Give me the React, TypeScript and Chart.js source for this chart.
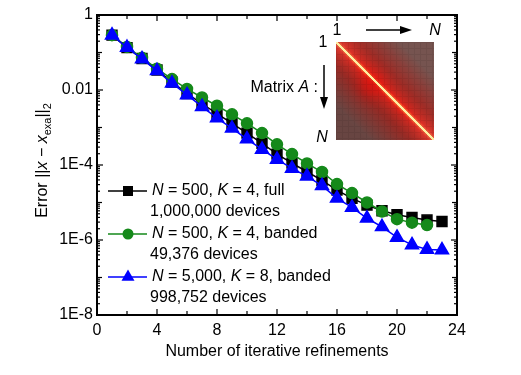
import React, { useEffect, useRef } from 'react';
import { Chart, registerables } from 'chart.js';

Chart.register(...registerables);

// Iterative refinement steps (x) and the resulting error norms (y)
const iterations = [1, 2, 3, 4, 5, 6, 7, 8, 9, 10, 11, 12, 13, 14, 15, 16, 17, 18, 19, 20, 21, 22, 23];

const errFull = [
  0.29, 0.135, 0.069, 0.034, 0.0162, 0.0081, 0.0043, 0.00234, 0.00129, 7.1e-4, 3.8e-4, 1.95e-4,
  1.12e-4, 6.6e-5, 3.9e-5, 2.14e-5, 1.29e-5, 8.5e-6, 6.0e-6, 4.7e-6, 4.0e-6, 3.4e-6, 3.1e-6,
];
const errBanded = [
  0.29, 0.141, 0.072, 0.037, 0.0195, 0.0107, 0.0063, 0.0038, 0.00224, 0.00129, 7.1e-4, 3.55e-4,
  1.95e-4, 1.1e-4, 6.5e-5, 3.1e-5, 1.78e-5, 1.0e-5, 5.75e-6, 3.6e-6, 2.9e-6, 2.5e-6,
];
const errLarge = [
  0.29, 0.135, 0.0676, 0.0324, 0.0151, 0.0074, 0.0036, 0.00178, 9.5e-4, 4.9e-4, 2.6e-4, 1.41e-4,
  8.1e-5, 5.0e-5, 2.8e-5, 1.29e-5, 7.4e-6, 3.8e-6, 2.24e-6, 1.17e-6, 7.4e-7, 5.6e-7, 5.4e-7,
];

const yTickValues = [1, 0.01, 1e-4, 1e-6, 1e-8];
const yTickLabels = ['1', '0.01', '1E-4', '1E-6', '1E-8'];

// Legend text: first line is [italic, plain, italic, plain], second line the device count
const legendHeads = [
  ['N', ' = 500, ', 'K', ' = 4, full'],
  ['N', ' = 500, ', 'K', ' = 4, banded'],
  ['N', ' = 5,000, ', 'K', ' = 8, banded'],
];
const legendCounts = ['1,000,000 devices', '49,376 devices', '998,752 devices'];

const FAMILY = '"Liberation Sans", Arial, Helvetica, sans-serif';
const BLACK = '#000000';
const GREEN = '#15891a';
const BLUE = '#0000ff';

type RGB = [number, number, number];
const mix = (a: RGB, b: RGB, t: number): RGB => [
  a[0] + (b[0] - a[0]) * t,
  a[1] + (b[1] - a[1]) * t,
  a[2] + (b[2] - a[2]) * t,
];

// Colour map of the matrix A preview: bright diagonal, red near-band, dull far field
function matrixColor(u: number, v: number): RGB {
  const d = Math.abs(u - v);
  const m = (u + v) / 2;
  const yellow: RGB = [255, 238, 160];
  const orange: RGB = [255, 120, 55];
  const red: RGB = [232, 34, 24];
  const darkRed: RGB = [158, 44, 38];
  const dull: RGB = [118, 84, 80];
  let c: RGB;
  if (d < 0.013) c = yellow;
  else if (d < 0.045) c = mix(orange, red, (d - 0.013) / 0.032);
  else if (d < 0.25) c = mix(red, darkRed, Math.pow((d - 0.045) / 0.205, 0.6));
  else c = mix(darkRed, dull, Math.min(1, (d - 0.25) / 0.4));
  if (d >= 0.013) {
    const glow = Math.exp(-((u - 0.36) ** 2 + (v - 0.44) ** 2) / 0.02);
    c = mix(c, [230, 14, 10], glow * 0.6);
    // softer, pinkish band near both ends of the diagonal
    const ends = Math.max(0, Math.abs(m - 0.5) - 0.2) / 0.3;
    c = mix(c, [210, 95, 85], ends * Math.exp(-d / 0.12) * 0.6);
  }
  if (v > u) c = mix(c, [40, 0, 0], Math.min(0.18, (v - u) * 0.25));
  return c;
}

function buildMatrixImage(size: number): HTMLCanvasElement {
  const off = document.createElement('canvas');
  off.width = size;
  off.height = size;
  const octx = off.getContext('2d')!;
  const img = octx.createImageData(size, size);
  for (let r = 0; r < size; r++) {
    for (let col = 0; col < size; col++) {
      const [R, G, B] = matrixColor(col / (size - 1), r / (size - 1));
      const onDiag = Math.abs(col - r) <= 1;
      const gridShade = !onDiag && (col % 6 === 0 || r % 6 === 0) ? 0.93 : 1;
      const k = (r * size + col) * 4;
      img.data[k] = R * gridShade;
      img.data[k + 1] = G * gridShade;
      img.data[k + 2] = B * gridShade;
      img.data[k + 3] = 255;
    }
  }
  octx.putImageData(img, 0, 0);
  return off;
}

function drawMarker(ctx: CanvasRenderingContext2D, style: string, x: number, y: number, color: string) {
  ctx.fillStyle = color;
  ctx.beginPath();
  if (style === 'rect') {
    ctx.rect(x - 5, y - 5, 10, 10);
  } else if (style === 'circle') {
    ctx.arc(x, y, 5.5, 0, Math.PI * 2);
  } else {
    const r = 7.5;
    for (let i = 0; i < 3; i++) {
      const a = (i * 2 * Math.PI) / 3;
      const px = x + Math.sin(a) * r;
      const py = y - Math.cos(a) * r;
      if (i === 0) ctx.moveTo(px, py);
      else ctx.lineTo(px, py);
    }
    ctx.closePath();
  }
  ctx.fill();
}

function drawPieces(
  ctx: CanvasRenderingContext2D,
  pieces: { t: string; f: string; dy?: number }[],
  x: number,
  y: number,
  align: 'left' | 'center' | 'right',
) {
  let total = 0;
  for (const p of pieces) {
    ctx.font = p.f;
    total += ctx.measureText(p.t).width;
  }
  let cx = align === 'left' ? x : align === 'center' ? x - total / 2 : x - total;
  ctx.textAlign = 'left';
  for (const p of pieces) {
    ctx.font = p.f;
    ctx.fillText(p.t, cx, y + (p.dy || 0));
    cx += ctx.measureText(p.t).width;
  }
}

export default function App() {
  const canvasRef = useRef<HTMLCanvasElement | null>(null);

  useEffect(() => {
    const canvas = canvasRef.current;
    if (!canvas) return;
    const matrixImg = buildMatrixImage(98);
    const reg = `16px ${FAMILY}`;
    const ita = `italic 16px ${FAMILY}`;
    const sub = `11px ${FAMILY}`;

    const decorations = {
      id: 'decorations',
      afterDraw(chart: any) {
        const { ctx, chartArea: a, scales } = chart;
        const xs = scales.x;
        const ys = scales.y;
        ctx.save();
        ctx.strokeStyle = '#000';
        ctx.fillStyle = '#000';

        // inward ticks on all four sides
        ctx.lineWidth = 1.2;
        const seg = (x1: number, y1: number, x2: number, y2: number) => {
          ctx.beginPath();
          ctx.moveTo(x1, y1);
          ctx.lineTo(x2, y2);
          ctx.stroke();
        };
        for (let v = 0; v <= 24; v += 2) {
          const px = xs.getPixelForValue(v);
          const len = v % 4 === 0 ? 6 : 4;
          seg(px, a.bottom, px, a.bottom - len);
          seg(px, a.top, px, a.top + len);
        }
        for (let e = -8; e <= 0; e++) {
          for (let m = 1; m <= 9; m++) {
            if (e === 0 && m > 1) break;
            const py = ys.getPixelForValue(m * Math.pow(10, e));
            const len = m === 1 ? (e % 2 === 0 ? 6 : 5) : 3;
            seg(a.left, py, a.left + len, py);
            seg(a.right, py, a.right - len, py);
          }
        }

        // frame
        ctx.lineWidth = 2;
        ctx.strokeRect(a.left, a.top, a.right - a.left, a.bottom - a.top);

        // axis titles
        ctx.textBaseline = 'middle';
        ctx.font = reg;
        ctx.textAlign = 'center';
        ctx.fillText('Number of iterative refinements', (a.left + a.right) / 2, 352);

        ctx.save();
        ctx.translate(47, 160.5);
        ctx.rotate(-Math.PI / 2);
        ctx.textBaseline = 'alphabetic';
        drawPieces(
          ctx,
          [
            { t: 'Error ||', f: reg },
            { t: 'x', f: ita },
            { t: ' \u2212 ', f: reg },
            { t: 'x', f: ita },
            { t: 'exa', f: sub, dy: 4 },
            { t: '||', f: reg },
            { t: '2', f: sub, dy: 4 },
          ],
          0,
          0,
          'center',
        );
        ctx.restore();

        // legend
        const styles = ['rect', 'circle', 'triangle'];
        const colors = [BLACK, GREEN, BLUE];
        const rows = [191, 234, 277];
        ctx.textBaseline = 'middle';
        for (let i = 0; i < 3; i++) {
          const y = rows[i];
          ctx.strokeStyle = colors[i];
          ctx.lineWidth = 1.5;
          seg(a.left + 11, y, a.left + 50, y);
          drawMarker(ctx, styles[i], a.left + 31, y, colors[i]);
          ctx.fillStyle = '#000';
          const h = legendHeads[i];
          drawPieces(
            ctx,
            [
              { t: h[0], f: ita },
              { t: h[1], f: reg },
              { t: h[2], f: ita },
              { t: h[3], f: reg },
            ],
            a.left + 55,
            y,
            'left',
          );
          ctx.font = reg;
          ctx.textAlign = 'left';
          ctx.fillText(legendCounts[i], a.left + 53, y + 21);
        }

        // matrix A inset
        const ix = 336;
        const iy = 42;
        const isz = 98;
        ctx.drawImage(matrixImg, ix, iy, isz, isz);
        ctx.fillStyle = '#000';
        ctx.strokeStyle = '#000';
        ctx.textBaseline = 'middle';
        ctx.font = reg;
        ctx.textAlign = 'center';
        ctx.fillText('1', ix + 1, 31);
        ctx.fillText('1', 323, iy + 1);
        ctx.font = ita;
        ctx.fillText('N', ix + isz + 1, 31);
        ctx.fillText('N', 322, iy + isz - 2);
        // arrows
        ctx.lineWidth = 1.5;
        seg(ix + 30, 30, ix + 66, 30);
        ctx.beginPath();
        ctx.moveTo(ix + 76, 30);
        ctx.lineTo(ix + 64, 26);
        ctx.lineTo(ix + 64, 34);
        ctx.closePath();
        ctx.fill();
        seg(324, iy + 23, 324, iy + 56);
        ctx.beginPath();
        ctx.moveTo(324, iy + 67);
        ctx.lineTo(320, iy + 55);
        ctx.lineTo(328, iy + 55);
        ctx.closePath();
        ctx.fill();
        ctx.textBaseline = 'middle';
        drawPieces(
          ctx,
          [
            { t: 'Matrix ', f: reg },
            { t: 'A', f: ita },
            { t: ' :', f: reg },
          ],
          318,
          88,
          'right',
        );

        ctx.restore();
      },
    };

    const toPoints = (ys: number[]) => ys.map((y, i) => ({ x: iterations[i], y }));

    const chart = new Chart(canvas, {
      type: 'line',
      data: {
        datasets: [
          {
            label: 'N = 500, K = 4, full',
            data: toPoints(errFull),
            borderColor: BLACK,
            backgroundColor: BLACK,
            pointBackgroundColor: BLACK,
            pointBorderColor: BLACK,
            pointStyle: 'rect',
            pointRadius: 7,
            borderWidth: 1.5,
            order: 3,
          },
          {
            label: 'N = 500, K = 4, banded',
            data: toPoints(errBanded),
            borderColor: GREEN,
            backgroundColor: GREEN,
            pointBackgroundColor: GREEN,
            pointBorderColor: GREEN,
            pointStyle: 'circle',
            pointRadius: 5.5,
            borderWidth: 1.5,
            order: 2,
          },
          {
            label: 'N = 5,000, K = 8, banded',
            data: toPoints(errLarge),
            borderColor: BLUE,
            backgroundColor: BLUE,
            pointBackgroundColor: BLUE,
            pointBorderColor: BLUE,
            pointStyle: 'triangle',
            pointRadius: 7.5,
            borderWidth: 1.5,
            order: 1,
          },
        ],
      },
      options: {
        responsive: false,
        animation: false,
        devicePixelRatio: 1,
        layout: { padding: { left: 0, top: 15, right: 64, bottom: 0 } },
        plugins: { legend: { display: false }, tooltip: { enabled: false } },
        elements: { line: { tension: 0 }, point: { borderWidth: 1 } },
        scales: {
          x: {
            type: 'linear',
            min: 0,
            max: 24,
            grid: { display: false, drawTicks: false },
            border: { display: false },
            ticks: {
              stepSize: 4,
              padding: 6,
              color: '#000',
              font: { family: FAMILY, size: 16 },
            },
            afterFit: (s: any) => {
              s.height = 60;
            },
          },
          y: {
            type: 'logarithmic',
            min: 1e-8,
            max: 1,
            grid: { display: false, drawTicks: false },
            border: { display: false },
            afterBuildTicks: (s: any) => {
              s.ticks = yTickValues.map((value) => ({ value }));
            },
            ticks: {
              autoSkip: false,
              padding: 4,
              color: '#000',
              font: { family: FAMILY, size: 16 },
              callback: (value: any) => {
                const i = yTickValues.findIndex((t) => Math.abs(Math.log10(t) - Math.log10(Number(value))) < 1e-6);
                return i >= 0 ? yTickLabels[i] : '';
              },
            },
            afterFit: (s: any) => {
              s.width = 97;
            },
          },
        },
      },
      plugins: [decorations],
    });

    return () => chart.destroy();
  }, []);

  return (
    <canvas
      ref={canvasRef}
      width={521}
      height={375}
      style={{ position: 'fixed', left: 0, top: 0, width: 521, height: 375, background: '#fff' }}
    />
  );
}
